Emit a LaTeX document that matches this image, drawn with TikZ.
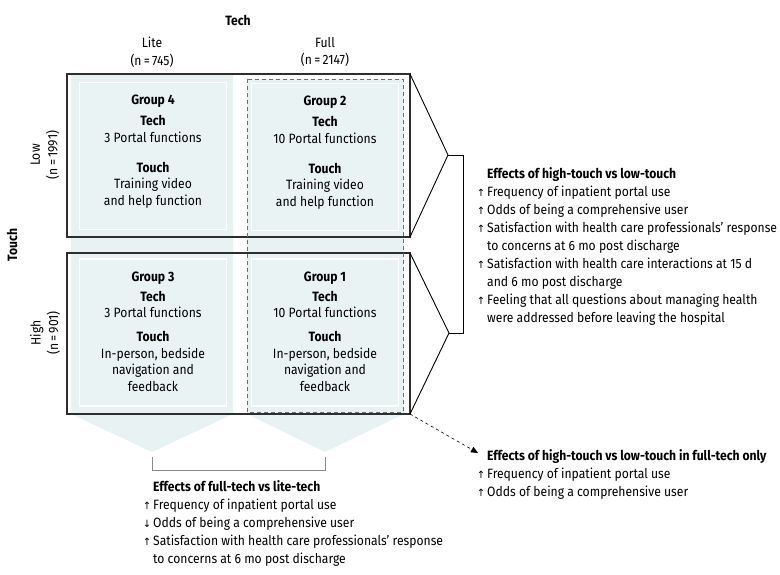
\documentclass[tikz,border=0pt]{standalone}
\usepackage{fontspec}
\setmainfont{Fira Sans}[FakeStretch=0.9]
\newfontfamily\arrowfont{DejaVu Sans}
\usetikzlibrary{positioning,arrows.meta}

\definecolor{columnfill}{HTML}{E8F2F3}
\definecolor{panelfill}{HTML}{EAF3F4}
\definecolor{frameline}{HTML}{2E2E2E}
\definecolor{dashline}{HTML}{6E6E6E}
\definecolor{bracketline}{HTML}{8A8A8A}

\newcommand\upmark{\makebox[0pt][r]{{\arrowfont\fontsize{10}{10}\selectfont ↑}\hspace{2pt}}}
\newcommand\downmark{\makebox[0pt][r]{{\arrowfont\fontsize{10}{10}\selectfont ↓}\hspace{2pt}}}

\tikzset{
	column/.style={fill=columnfill},
	panel/.style={draw=white, line width=1.5pt, fill=panelfill, minimum width=147pt, minimum height=147pt, inner sep=0pt},
	grouptext/.style={align=center, inner sep=0pt, font=\fontsize{13.5}{16.5}\selectfont},
	axislabel/.style={align=center, inner sep=0pt, font=\fontsize{13.5}{17.5}\selectfont},
	axistitle/.style={inner sep=0pt, font=\fontsize{13.5}{15}\selectfont\bfseries},
	frame/.style={draw=frameline, line width=1.3pt},
	chevron/.style={draw=black, line width=0.9pt, line join=miter},
	fullbox/.style={draw=dashline, line width=0.9pt, dash pattern=on 4pt off 3pt},
	bracket/.style={draw=black, line width=0.9pt},
	techbracket/.style={draw=bracketline, line width=0.9pt},
	dasharrow/.style={draw=black, line width=0.6pt, dash pattern=on 3pt off 3pt, -{Triangle[length=7pt,width=6pt]}},
	effects/.style={align=left, anchor=north west, inner sep=0pt, font=\fontsize{13.5}{18}\selectfont},
}

\begin{document}
\begin{tikzpicture}[x=1pt,y=-1pt]
	\useasboundingbox (0,0) rectangle (780,575);

	% shaded tech columns, pointing down to the comparison
	\fill[column] (71,74) -- (233,74) -- (233,414) -- (152,452) -- (71,414) -- cycle;
	\fill[column] (247,79) -- (404,79) -- (404,414) -- (325,452) -- (247,414) -- cycle;
	\coordinate (litetip) at (152,452);
	\coordinate (fulltip) at (325,452);

	% the four groups
	\node[panel] (g4) at (153,156) {};
	\node[panel] (g2) at (325,157) {};
	\node[panel] (g3) at (153,332.5) {};
	\node[panel] (g1) at (325,332.5) {};

	\node[grouptext, below=13pt of g4.north] (g4text) {\textbf{Group 4}\\[4.5pt] \textbf{Tech}\\ 3 Portal functions\\[13.5pt] \textbf{Touch}\\ Training video\\ and help function};
	\node[grouptext, below=13pt of g2.north] (g2text) {\textbf{Group 2}\\[4.5pt] \textbf{Tech}\\ 10 Portal functions\\[13.5pt] \textbf{Touch}\\ Training video\\ and help function};
	\node[grouptext, below=13pt of g3.north] (g3text) {\textbf{Group 3}\\[3.5pt] \textbf{Tech}\\ 3 Portal functions\\[7.5pt] \textbf{Touch}\\ In-person, bedside\\ navigation and\\ feedback};
	\node[grouptext, below=13pt of g1.north] (g1text) {\textbf{Group 1}\\[3.5pt] \textbf{Tech}\\ 10 Portal functions\\[7.5pt] \textbf{Touch}\\ In-person, bedside\\ navigation and\\ feedback};

	% touch rows with chevrons to the right
	\coordinate (lowtip) at (448,155);
	\coordinate (hightip) at (449,333);
	\draw[frame] (67,74) rectangle (410,237);
	\draw[frame] (67,253) rectangle (410,414);
	\draw[chevron] (410,74) -- (lowtip) -- (410,237);
	\draw[chevron] (410,253) -- (hightip) -- (410,414);
	\draw[fullbox] (247,79) rectangle (403,412);

	% axis labels
	\node[axistitle] (techtitle) at (238,20) {Tech};
	\node[axislabel] (lite) at (152,52) {Lite\\(n\,=\,745)};
	\node[axislabel] (full) at (325,52) {Full\\(n\,=\,2147)};
	\node[axistitle, rotate=90] (touchtitle) at (12,245) {Touch};
	\node[axislabel, rotate=90] (low) at (45,155) {Low\\(n\,=\,1991)};
	\node[axislabel, rotate=90] (high) at (45,333) {High\\(n\,=\,901)};

	% comparisons
	\draw[bracket] (lowtip) -- ++(15,0) |- (hightip);
	\draw[techbracket] ([yshift=-5pt]litetip) -- ++(0,13) -| ([yshift=-5pt]fulltip);
	\coordinate (cornerhigh) at (410,414);
	\coordinate (onlyend) at (478,453);
	\draw[dasharrow] (cornerhigh) -- (onlyend);

	\node[effects] (touchfx) at (487,167) {\textbf{Effects of high-touch vs low-touch}\\
		\upmark Frequency of inpatient portal use\\
		\upmark Odds of being a comprehensive user\\
		\upmark Satisfaction with health care professionals’ response\\
		to concerns at 6 mo post discharge\\
		\upmark Satisfaction with health care interactions at 15 d\\
		and 6 mo post discharge\\
		\upmark Feeling that all questions about managing health\\
		were addressed before leaving the hospital};
	\node[effects] (onlyfx) at (487,449) {\textbf{Effects of high-touch vs low-touch in full-tech only}\\
		\upmark Frequency of inpatient portal use\\
		\upmark Odds of being a comprehensive user};
	\node[effects] (techfx) at (153,480) {\textbf{Effects of full-tech vs lite-tech}\\
		\upmark Frequency of inpatient portal use\\
		\downmark Odds of being a comprehensive user\\
		\upmark Satisfaction with health care professionals’ response\\
		to concerns at 6 mo post discharge};
\end{tikzpicture}
\end{document}
